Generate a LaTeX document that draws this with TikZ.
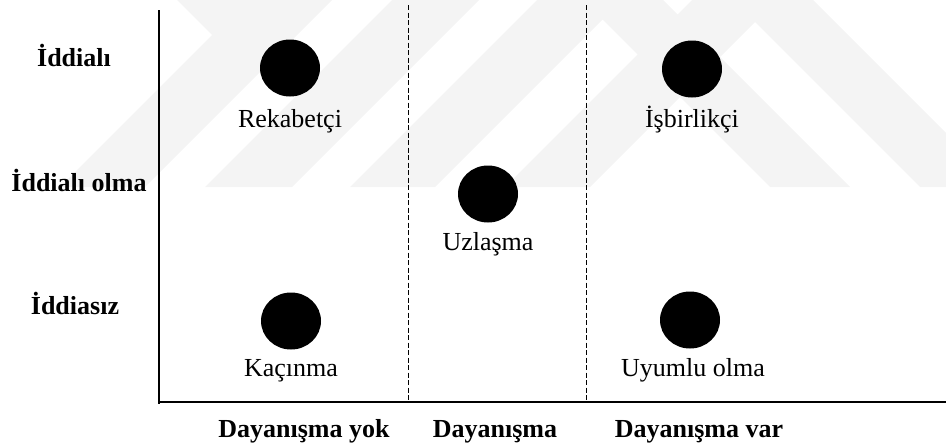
\documentclass[tikz,border=0pt]{standalone}
\usepackage{fontspec}
\setmainfont{Liberation Serif}
\usetikzlibrary{shapes.geometric}
\definecolor{wmgray}{RGB}{244,244,244}
\begin{document}
\begin{tikzpicture}[x=1pt,y=-1pt,
  dot/.style={ellipse,fill=black,minimum width=60pt,minimum height=57pt,inner sep=0pt},
  lbl/.style={anchor=base,inner sep=0pt,font=\fontsize{26}{30}\selectfont},
  axlbl/.style={anchor=base,inner sep=0pt,font=\fontsize{26}{30}\selectfont\bfseries},
  axis/.style={line width=1.4pt},
  divider/.style={line width=0.9pt,dash pattern=on 5pt off 2.5pt},
  wm/.style={fill=wmgray,draw=none}]
\useasboundingbox (0,0) rectangle (946,447);

% faint background logo: slanted bars cut off at y = 187
\fill[wm] (60,187) -- (145,187) -- (332,0) -- (247,0) -- cycle;
\fill[wm] (205,187) -- (292,187) -- (479,0) -- (392,0) -- cycle;
\fill[wm] (350,187) -- (435,187) -- (622,0) -- (537,0) -- cycle;
\fill[wm] (505,187) -- (590,187) -- (777,0) -- (692,0) -- cycle;
\fill[wm] (177,0) -- (247,0) -- (292,45) -- (222,45) -- cycle;
\fill[wm] (583,0) -- (663,0) -- (850,187) -- (770,187) -- cycle;
\fill[wm] (733,0) -- (813,0) -- (1000,187) -- (920,187) -- cycle;

% axes
\coordinate (ytop) at (159,10);
\coordinate (ybot) at (159,404);
\coordinate (xleft) at (160,402);
\coordinate (xright) at (946,402);
\draw[axis] (ytop) -- (ybot);
\draw[axis,line width=1.7pt] (xleft) -- (xright);

% column dividers
\coordinate (d1t) at (408,5);
\coordinate (d1b) at (408,401);
\coordinate (d2t) at (586,5);
\coordinate (d2b) at (586,401);
\draw[divider] (d1t) -- (d1b);
\draw[divider] (d2t) -- (d2b);

% conflict styles
\node[dot] (rek) at (290,68) {};
\node[lbl] (rekl) at (290,127) {Rekabetçi};
\node[dot] (isb) at (692,69) {};
\node[lbl] (isbl) at (692,127) {İşbirlikçi};
\node[dot] (uzl) at (488,194) {};
\node[lbl] (uzll) at (488,250) {Uzlaşma};
\node[dot] (kac) at (291,321) {};
\node[lbl] (kacl) at (291,376) {Kaçınma};
\node[dot] (uyu) at (690,320) {};
\node[lbl] (uyul) at (693,376) {Uyumlu olma};

% assertiveness levels
\node[axlbl] (a1) at (74,66) {İddialı};
\node[axlbl] (a2) at (79,191) {İddialı olma};
\node[axlbl] (a3) at (75,314) {İddiasız};

% cooperation levels
\node[axlbl] (c1) at (304,437) {Dayanışma yok};
\node[axlbl] (c2) at (495,437) {Dayanışma};
\node[axlbl] (c3) at (699,437) {Dayanışma var};
\end{tikzpicture}
\end{document}
